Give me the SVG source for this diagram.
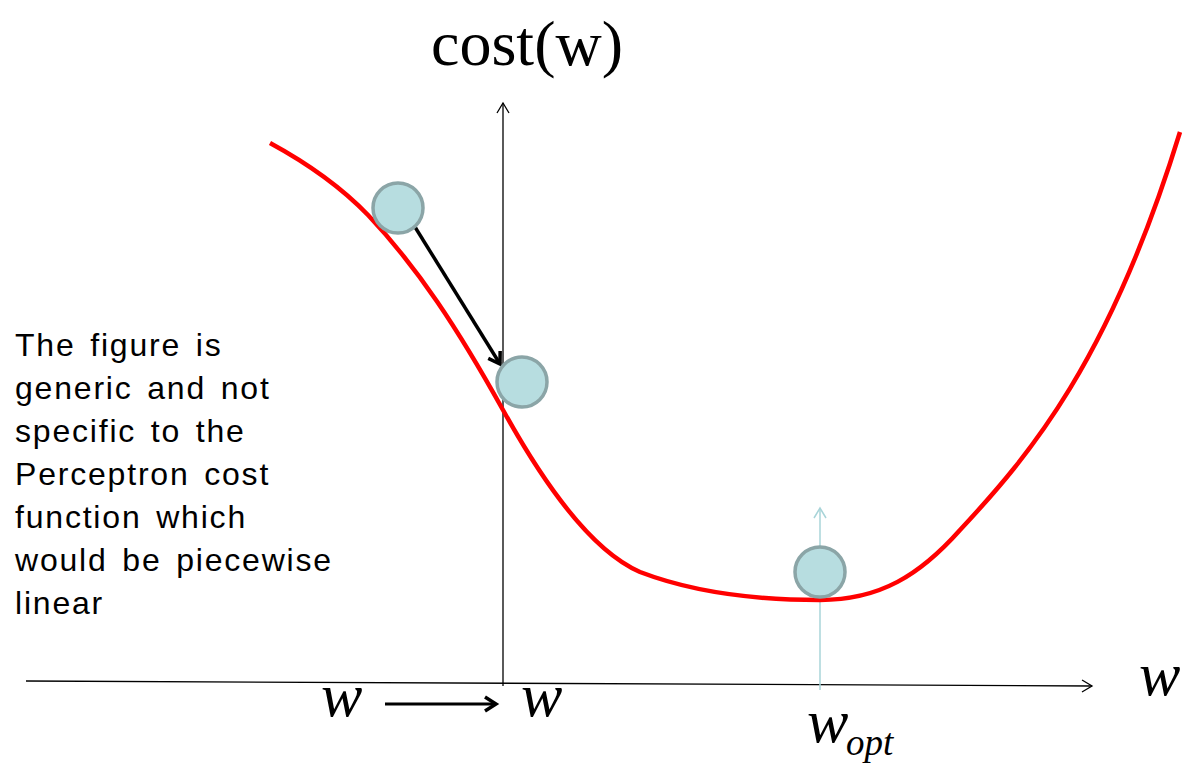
<svg xmlns="http://www.w3.org/2000/svg" width="1183" height="766" viewBox="0 0 1183 766">
<style>
.serif{font-family:"Liberation Serif","Times New Roman",serif;fill:#000}
.it{font-style:italic}
.note{font-family:"Liberation Sans",Arial,sans-serif;font-size:32px;fill:#000;letter-spacing:1.8px;word-spacing:4px}
.ball{fill:#b7dde0;stroke:#8ba5a7;stroke-width:3.5}
.axis{stroke:#000;stroke-width:1.3;fill:none}
</style>
<defs>
<marker id="openHead" markerWidth="16" markerHeight="16" refX="12" refY="8" orient="auto" markerUnits="userSpaceOnUse">
<path d="M2,2 L12,8 L2,14" fill="none" stroke="#000" stroke-width="1.3"/>
</marker>
<marker id="openHeadBlue" markerWidth="16" markerHeight="16" refX="12" refY="8" orient="auto" markerUnits="userSpaceOnUse">
<path d="M2,2 L12,8 L2,14" fill="none" stroke="#a8d4d8" stroke-width="1.5"/>
</marker>
<marker id="boldHead" markerWidth="20" markerHeight="20" refX="14" refY="10" orient="auto" markerUnits="userSpaceOnUse">
<path d="M3,3 L14,10 L3,17" fill="none" stroke="#000" stroke-width="3.5"/>
</marker>
</defs>
<rect width="1183" height="766" fill="#fff"/>
<g id="connectors">
<line class="axis" x1="26" y1="681" x2="1092" y2="686" marker-end="url(#openHead)"/>
<line class="axis" x1="503" y1="686" x2="503" y2="103" marker-end="url(#openHead)"/>
<line x1="820" y1="690" x2="820" y2="508" stroke="#a8d4d8" stroke-width="1.5" marker-end="url(#openHeadBlue)"/>
<line x1="415" y1="227" x2="500" y2="364" stroke="#000" stroke-width="3.5" marker-end="url(#boldHead)"/>
<line x1="385" y1="704" x2="496" y2="704" stroke="#000" stroke-width="3" marker-end="url(#boldHead)"/>
</g>
<g id="curve">
<path d="M270,143 C305,162 340,186 368,215 C418,268 458,329 503,410 C535,468 585,548 640,572 C700,595 770,600 820,600 C880,600 920,575 960,530 C1030,455 1110,360 1180,132" fill="none" stroke="#ff0000" stroke-width="4.5"/>
</g>
<g id="ball1"><circle class="ball" cx="398" cy="208" r="25"/></g>
<g id="ball2"><circle class="ball" cx="522" cy="382" r="25"/></g>
<g id="ball3"><circle class="ball" cx="820" cy="572" r="25"/></g>
<g id="labels">
<text class="serif" x="527" y="65" font-size="64" text-anchor="middle">cost(w)</text>
<text class="serif it" x="321" y="716" font-size="62">w</text>
<text class="serif it" x="521" y="716" font-size="62">w</text>
<text class="serif it" x="1139" y="695" font-size="62">w</text>
<text class="serif it" x="807" y="742" font-size="62">w</text>
<text class="serif it" x="846" y="755" font-size="37">opt</text>
</g>
<g id="note">
<text class="note" x="15" y="356">The figure is</text>
<text class="note" x="15" y="399">generic and not</text>
<text class="note" x="15" y="442">specific to the</text>
<text class="note" x="15" y="485">Perceptron cost</text>
<text class="note" x="15" y="528">function which</text>
<text class="note" x="15" y="571">would be piecewise</text>
<text class="note" x="15" y="614">linear</text>
</g>
</svg>
